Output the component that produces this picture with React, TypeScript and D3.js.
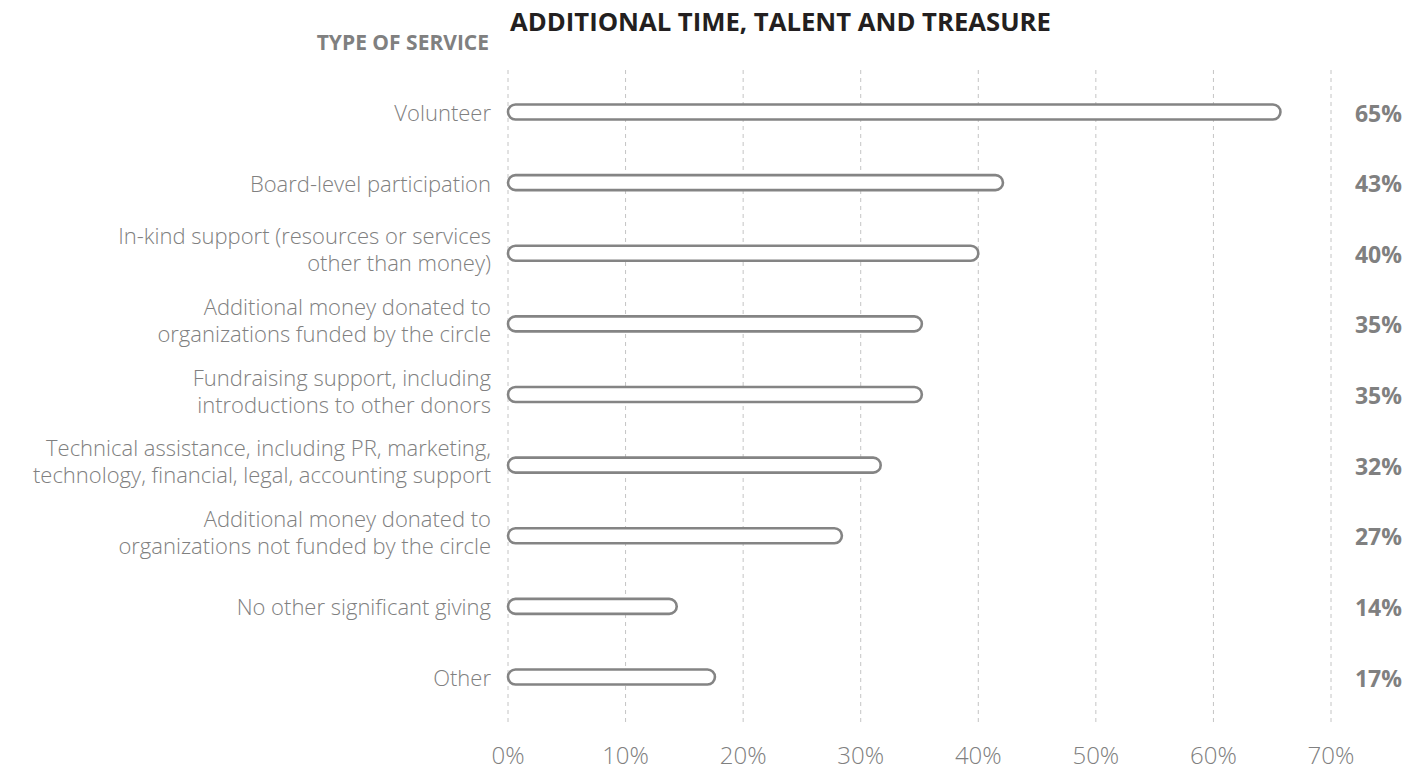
import React from "react";
import * as d3 from "d3";

const categories: string[][] = [
  ["Volunteer"],
  ["Board-level participation"],
  ["In-kind support (resources or services", "other than money)"],
  ["Additional money donated to", "organizations funded by the circle"],
  ["Fundraising support, including", "introductions to other donors"],
  ["Technical assistance, including PR, marketing,", "technology, financial, legal, accounting support"],
  ["Additional money donated to", "organizations not funded by the circle"],
  ["No other significant giving"],
  ["Other"],
];
const barValues: number[] = [65.7, 42.1, 40.0, 35.2, 35.2, 31.7, 28.4, 14.35, 17.6];
const valueLabels: string[] = ["65%", "43%", "40%", "35%", "35%", "32%", "27%", "14%", "17%"];
const tickValues: number[] = [0, 10, 20, 30, 40, 50, 60, 70];
const title = "ADDITIONAL TIME, TALENT AND TREASURE";
const axisTitle = "TYPE OF SERVICE";

const W = 1419;
const H = 771;
const FONT = "'Open Sans', 'Noto Sans', sans-serif";
const GRAY = "#808080";

export default function App() {
  const x = d3.scaleLinear().domain([0, 70]).range([508, 1331]);
  const y = d3
    .scalePoint<number>()
    .domain(d3.range(categories.length))
    .range([112, 677]);
  const barH = 15;
  const lh = 27;

  return (
    <svg
      width={W}
      height={H}
      style={{ position: "absolute", left: 0, top: 0, background: "#fff" }}
      fontFamily={FONT}
    >
      {tickValues.map((t) => (
        <g key={t}>
          <line
            x1={x(t)}
            x2={x(t)}
            y1={70}
            y2={722}
            stroke="#c4c4c4"
            strokeWidth={1}
            strokeDasharray="4,4"
          />
          <text
            x={x(t)}
            y={764}
            textAnchor="middle"
            fontSize={24}
            fontWeight={300}
            fill={GRAY}
          >
            {d3.format("d")(t) + "%"}
          </text>
        </g>
      ))}

      <text x={510} y={31} fontSize={25.7} fontWeight={700} fill="#231f20">
        {title}
      </text>
      <text x={489} y={50} textAnchor="end" fontSize={21} fontWeight={700} fill={GRAY}>
        {axisTitle}
      </text>

      {categories.map((lines, i) => {
        const cy = y(i) as number;
        const off = lines.length > 1 ? 4.5 : 9;
        return (
          <g key={i}>
            <text textAnchor="end" fontSize={22} fontWeight={300} fill={GRAY}>
              {lines.map((ln, j) => (
                <tspan
                  key={j}
                  x={491}
                  y={cy + (j - (lines.length - 1) / 2) * lh + off}
                >
                  {ln}
                </tspan>
              ))}
            </text>
            <rect
              x={x(0)}
              y={cy - barH / 2}
              width={x(barValues[i]) - x(0)}
              height={barH}
              rx={barH / 2}
              ry={barH / 2}
              fill="#fff"
              stroke="#848484"
              strokeWidth={2.6}
            />
            <text
              x={1402}
              y={cy + 9.5}
              textAnchor="end"
              fontSize={23}
              fontWeight={700}
              fill={GRAY}
            >
              {valueLabels[i]}
            </text>
          </g>
        );
      })}
    </svg>
  );
}
